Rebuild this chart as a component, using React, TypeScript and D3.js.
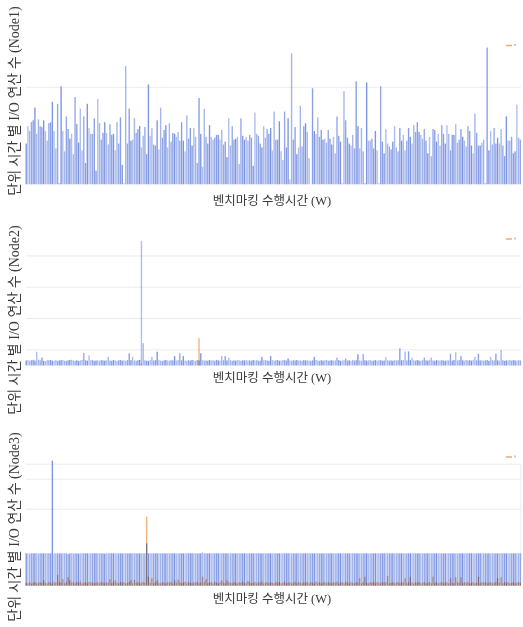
import React from "react";
import * as d3 from "d3";

// ---------- data ----------
const xLabel = "벤치마킹 수행시간 (W)";
const yLabels = [
  "단위 시간 별 I/O 연산 수 (Node1)",
  "단위 시간 별 I/O 연산 수 (Node2)",
  "단위 시간 별 I/O 연산 수 (Node3)",
];

const node1Blue = [
  42,60,55,64,66,79,52,67,60,59, 66,55,45,63,64,85,55,37,83,1,
  101,55,34,70,57,47,52,31,90,62, 43,78,35,70,22,83,58,52,52,68,
  14,88,63,46,53,64,53,41,62,51, 52,35,64,42,69,20,1,122,42,78,
  45,46,68,53,57,60,38,50,59,31, 103,50,58,41,40,66,36,79,48,56,
  61,38,63,44,53,52,49,54,45,64, 45,34,71,47,58,40,58,
  49,22,89,52,18,78,49,42,61,
  49,46,48,51,51,46,56,41,44,28, 68,40,60,46,47,49,21,68,50,46,
  49,45,51,48,19,74,52,50,42,38, 60,48,57,52,58,35,75,46,46,65,
  34,25,75,38,68,5,135,46,59,31, 38,81,39,60,63,54,27,0,99,55,
  52,69,49,56,46,47,43,56,47,41, 49,32,70,50,44,1,96,66,48,42,
  40,51,37,106,60,37,
  58,34,1,105,45,45,47,37,
  55,35,1,101,44,32,57,42,39,36, 44,60,38,34,58,45,51,35,45,58,
  49,42,61,54,64,54,51,47,57,45, 32,49,29,57,56,44,52,40,61,52,
  42,61,52,35,51,51,62,43,46,57, 49,45,39,60,55,40,32,73,53,40,
  40,43,46,1,141,35,55,41,58,42, 48,42,57,40,29,70,45,45,49,32,
  34,82,48,46,
];

const node2Blue = [
  32,35,30,34,36,31,88,38,33,50, 30,28,34,33,36,31,30,35,29,33,
  34,36,31,30,33,35,37,32,30,34, 29,33,36,80,34,31,65,33,35,30,
  32,34,30,36,33,31,34,55,32,30, 35,33,29,34,36,31,33,30,35,78,
  34,55,32,30,34,36,795,142,33,31, 30,35,55,32,34,88,36,31,30,33,
  35,32,30,34,33,60,31,35,78,33, 60,32,30,34,31,36,33,30,35,32,
  78,34,31,33,30,35,32,34,30,36, 33,31,60,33,60,32,50,34,30,33,
  31,35,33,30,34,32,36,31,33,30, 35,32,34,31,30,55,33,36,32,30,
  60,34,31,33,35,30,32,34,36,31, 45,33,30,34,32,35,31,33,30,36,
  32,34,31,30,33,55,35,32,30,34, 31,33,36,30,32,34,31,33,50,35,
  30,32,34,45,31,33,30,35,32,34, 72,33,30,72,34,31,33,35,30,32,
  34,31,33,36,30,32,55,34,31,33, 30,35,32,34,110,33,36,90,32,90,
  34,50,33,31,35,32,30,34,50,33, 31,36,50,32,30,34,33,31,35,32,
  30,34,33,75,31,35,85,32,34,60, 33,30,35,32,34,31,36,55,33,75,
  32,34,31,33,35,30,55,34,32,75, 33,31,100,34,30,33,32,35,31,34,
  33,30,35,32,
];
const node2OrangeIdx = [66, 99];
const node2OrangeVal = [12, 174];

const node3Blue = [
  108,108,107,108,108,108,108,107,108,108, 108,108,108,108,108,417,108,108,108,108,
  108,108,108,108,106,108,108,108,108,108, 107,108,108,108,108,108,108,108,108,108,
  108,108,108,108,108,107,108,108,108,108, 108,108,108,108,108,108,108,108,108,108,
  108,108,108,108,108,108,108,108,108,141, 108,108,108,108,108,108,108,108,108,108,
  108,108,108,108,108,108,108,108,108,108, 108,108,108,108,108,108,108,108,108,108,
  108,111,108,108,108,108,108,108,108,108, 108,108,108,108,108,108,107,108,108,108,
  108,108,108,108,108,108,108,108,108,108, 108,108,108,108,108,108,108,108,108,108,
  108,108,108,108,108,108,108,108,108,108, 108,108,108,108,108,108,108,108,108,108,
  108,108,108,108,108,108,108,108,108,108, 108,108,108,108,108,108,108,108,108,108,
  108,108,108,108,108,108,108,108,108,108, 108,108,108,108,108,108,108,108,108,108,
  108,108,108,108,108,108,108,108,108,108, 108,108,108,108,108,108,108,108,108,108,
  108,108,108,108,108,108,108,108,108,108, 108,108,108,108,108,108,108,108,108,108,
  108,108,108,108,108,108,108,108,108,108, 108,108,108,108,108,108,108,108,108,108,
  108,108,108,108,108,108,108,108,108,108, 108,108,108,108,108,108,108,108,108,108,
  108,108,108,108,
];
const node3Orange = [
  10,8,12,7,10,13,8,10,12,9, 18,10,8,12,10,7,13,10,36,12,
  10,22,8,12,28,18,10,13,8,12, 10,14,8,10,12,8,13,10,12,8,
  10,12,8,13,10,8,12,10,22,8, 12,18,10,8,13,10,12,8,10,12,
  18,8,20,10,12,8,10,13,10,230, 30,10,25,8,12,18,10,8,12,10,
  8,12,10,13,8,18,10,20,12,8, 10,13,8,12,10,8,12,10,13,8,
  10,30,12,22,8,10,12,8,13,10, 8,12,18,10,8,18,12,10,8,13,
  10,8,12,10,13,8,10,16,12,8, 10,13,8,12,10,14,8,10,12,8,
  12,10,8,13,10,12,8,10,14,8, 10,12,8,10,13,8,12,10,8,12,
  10,13,8,12,10,8,14,10,12,8, 10,13,8,12,10,8,12,10,13,8,
  10,12,8,13,10,8,12,10,8,12, 10,25,8,12,30,10,8,12,10,13,
  8,12,10,8,13,10,12,32,8,10, 12,8,10,13,8,12,10,25,8,12,
  30,10,8,12,10,13,8,10,12,8, 10,13,8,30,10,12,8,10,13,8,
  10,12,8,25,10,8,28,12,10,28, 8,12,10,13,8,10,12,8,10,30,
  8,12,10,13,8,10,12,8,10,12, 25,10,28,8,12,10,13,8,10,12,
  8,10,12,10,
];

const node1Grid = [100];
const node2Grid = [100, 300, 500, 700];
const node3Grid = [255, 355, 405];

// ---------- styles ----------
const BLUE = "#7c95e3";
const ORANGE = "#f2aa72";
const GRID = "#ebebeb";
const TEXT = "#3a3a3a";
const FONT = "'Liberation Serif', 'Noto Sans CJK KR', serif";
const SHADES = [1, 0.7, 0.9, 0.62, 0.82];

type Panel = {
  blue: number[];
  orange: { i: number; v: number }[];
  grid: number[];
  domainMax: number;
  bottom: number;
  top: number;
  yLabelCenter: number;
  xLabelY: number;
  legendY: number;
  border?: boolean;
};

export default function App() {
  const N = node1Blue.length;
  const x = d3
    .scaleBand<number>()
    .domain(d3.range(N))
    .range([25.5, 521])
    .paddingInner(0.22);

  const panels: Panel[] = [
    {
      blue: node1Blue,
      orange: [],
      grid: node1Grid,
      domainMax: 143,
      bottom: 184.3,
      top: 45.6,
      yLabelCenter: 101,
      xLabelY: 204.5,
      legendY: 45.5,
    },
    {
      blue: node2Blue,
      orange: node2OrangeIdx.map((i, k) => ({ i, v: node2OrangeVal[k] })),
      grid: node2Grid,
      domainMax: 800,
      bottom: 365.5,
      top: 240.3,
      yLabelCenter: 320,
      xLabelY: 381.5,
      legendY: 239,
    },
    {
      blue: node3Blue,
      orange: node3Orange.map((v, i) => ({ i, v })),
      grid: node3Grid,
      domainMax: 420,
      bottom: 585.7,
      top: 459.7,
      yLabelCenter: 527,
      xLabelY: 602.5,
      legendY: 457,
      border: true,
    },
  ];

  return (
    <svg
      width={523}
      height={627}
      style={{ position: "absolute", left: 0, top: 0, background: "#fff" }}
    >
      {panels.map((p, pi) => {
        const y = d3
          .scaleLinear()
          .domain([0, p.domainMax])
          .range([p.bottom, p.top]);
        const bw = x.bandwidth();
        return (
          <g key={pi}>
            {p.grid.map((g) => (
              <line
                key={g}
                x1={26}
                x2={521}
                y1={y(g)}
                y2={y(g)}
                stroke={GRID}
                strokeWidth={1}
              />
            ))}
            {p.border && (
              <line
                x1={521}
                x2={521}
                y1={y(405)}
                y2={p.bottom}
                stroke={GRID}
                strokeWidth={1}
              />
            )}
            {p.blue.map((v, i) => (
              <rect
                key={i}
                x={x(i)}
                y={y(v)}
                width={bw}
                height={Math.max(0, p.bottom - y(v))}
                fill={BLUE}
                fillOpacity={SHADES[(i * 3) % SHADES.length]}
              />
            ))}
            <g style={{ mixBlendMode: "multiply" }}>
              {p.orange.map((o) => (
                <rect
                  key={o.i}
                  x={x(o.i)}
                  y={y(o.v)}
                  width={bw}
                  height={Math.max(0, p.bottom - y(o.v))}
                  fill={ORANGE}
                  opacity={0.9}
                />
              ))}
            </g>
            {/* tiny legend */}
            <line
              x1={506}
              x2={512}
              y1={p.legendY}
              y2={p.legendY}
              stroke={ORANGE}
              strokeWidth={1.5}
            />
            <rect x={514} y={p.legendY - 1.5} width={2} height={2} fill="#ccc" />
            <text
              transform={`translate(${19},${p.yLabelCenter}) rotate(-90)`}
              textAnchor="middle"
              fontFamily={FONT}
              fontSize={14}
              fill={TEXT}
            >
              {yLabels[pi]}
            </text>
            <text
              x={272}
              y={p.xLabelY}
              textAnchor="middle"
              fontFamily={FONT}
              fontSize={12.5}
              fill={TEXT}
            >
              {xLabel}
            </text>
          </g>
        );
      })}
    </svg>
  );
}
